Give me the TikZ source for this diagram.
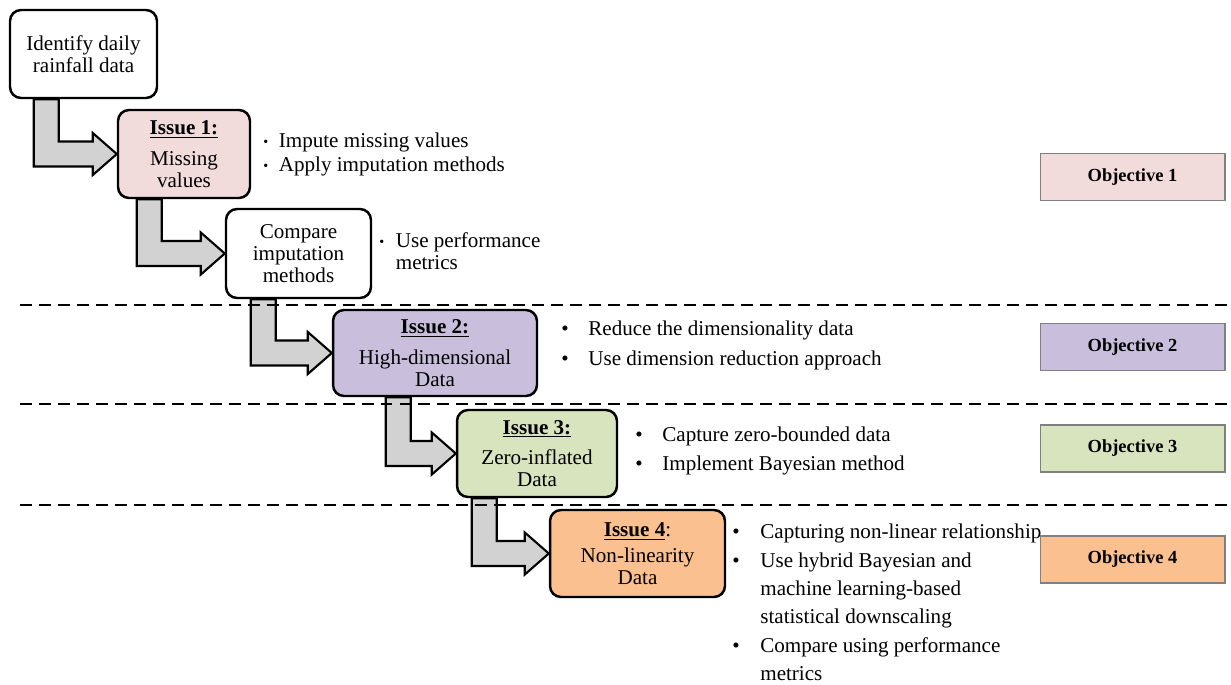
\documentclass[tikz,border=0pt]{standalone}
\usepackage{fontspec}
\setmainfont{Liberation Serif}
\usetikzlibrary{calc}

\definecolor{pinkfill}{HTML}{F2DCDB}
\definecolor{lilacfill}{HTML}{C9BFDC}
\definecolor{greenfill}{HTML}{D7E4BD}
\definecolor{orangefill}{HTML}{FAC090}
\definecolor{shaftgray}{HTML}{D2D2D2}

\tikzset{
  stagebox/.style={draw, line width=1.4pt, rounded corners=0.22cm, align=center,
    inner sep=2pt, font=\fontsize{12}{12.5}\selectfont},
  objbox/.style={draw=black!50, line width=0.6pt, minimum width=3.7cm, minimum height=0.94cm,
    font=\bfseries\fontsize{10.5}{12}\selectfont},
  notes/.style={anchor=west, align=left, inner sep=0pt},
  fatarrow/.style={draw, line width=1.2pt, fill=shaftgray, line join=miter},
  sepline/.style={line width=1.1pt, dash pattern=on 6.8pt off 4pt},
}

% bent block arrow from bottom of #1 into west side of #2, #3 = shaft offset
\newcommand{\fatarrow}[3]{%
  \draw[fatarrow] let \p1=(#1.south west), \p2=(#2.west) in
    (\x1+#3,\y1) -- (\x1+#3+0.5cm,\y1) -- (\x1+#3+0.5cm,\y2+0.25cm)
    -- (\x2-0.48cm,\y2+0.25cm) -- (\x2-0.48cm,\y2+0.42cm) -- (\p2)
    -- (\x2-0.48cm,\y2-0.42cm) -- (\x2-0.48cm,\y2-0.25cm)
    -- (\x1+#3,\y2-0.25cm) -- cycle;}
\newcommand{\bul}[1]{\makebox[#1][l]{\textbullet}}
\newcommand{\sbul}[1]{\makebox[#1][l]{\raisebox{0.1ex}{\footnotesize\textbullet}}}
\newcommand{\issue}[1]{\textbf{\underline{#1}}}

\begin{document}
\begin{tikzpicture}[x=0.02cm, y=-0.02cm]
  \useasboundingbox (0,0) rectangle (1231,684);

  % stages
  \node[stagebox, fill=white, minimum width=2.94cm, minimum height=1.76cm] (idf) at (83.5,54)
    {Identify daily\\rainfall data};
  \node[stagebox, fill=pinkfill, minimum width=2.64cm, minimum height=1.76cm] (iss1) at (184,154)
    {\issue{Issue 1:}\\[5pt]Missing\\values};
  \node[stagebox, fill=white, minimum width=2.9cm, minimum height=1.78cm] (cmp) at (298.5,253.5)
    {Compare\\imputation\\methods};
  \node[stagebox, fill=lilacfill, minimum width=4.08cm, minimum height=1.72cm] (iss2) at (435,353)
    {\issue{Issue 2:}\\[5pt]High-dimensional\\Data};
  \node[stagebox, fill=greenfill, minimum width=3.2cm, minimum height=1.74cm] (iss3) at (537,453.5)
    {\issue{Issue 3:}\\[5pt]Zero-inflated\\Data};
  \node[stagebox, fill=orangefill, minimum width=3.5cm, minimum height=1.74cm] (iss4) at (637.5,553.5)
    {\issue{Issue 4}:\\[2pt]Non-linearity\\Data};

  % block arrows
  \fatarrow{idf}{iss1}{0.5cm}
  \fatarrow{iss1}{cmp}{0.4cm}
  \fatarrow{cmp}{iss2}{0.52cm}
  \fatarrow{iss2}{iss3}{1.08cm}
  \fatarrow{iss3}{iss4}{0.32cm}

  % separators
  \draw[sepline] (20,305) -- (1231,305);
  \draw[sepline] (20,404) -- (1231,404);
  \draw[sepline] (20,505) -- (1231,505);

  % notes
  \node[notes, font=\fontsize{12}{14}\selectfont] (n1) at (263,154.5)
    {\sbul{0.31cm}Impute missing values\\\sbul{0.31cm}Apply imputation methods};
  \node[notes, font=\fontsize{12}{12.5}\selectfont] (n2) at (379,251)
    {\sbul{0.33cm}Use performance\\\hspace*{0.33cm}metrics};
  \node[notes, font=\fontsize{12}{17}\selectfont] (n3) at (561,345)
    {\bul{0.54cm}Reduce the dimensionality data\\\bul{0.54cm}Use dimension reduction approach};
  \node[notes, font=\fontsize{12}{16}\selectfont] (n4) at (635,451)
    {\bul{0.54cm}Capture zero-bounded data\\\bul{0.54cm}Implement Bayesian method};
  \node[notes, font=\fontsize{12}{16.2}\selectfont] (n5) at (732,602.5)
    {\bul{0.56cm}Capturing non-linear relationship\\
     \bul{0.56cm}Use hybrid Bayesian and\\
     \hspace*{0.56cm}machine learning-based\\
     \hspace*{0.56cm}statistical downscaling\\
     \bul{0.56cm}Compare using performance\\
     \hspace*{0.56cm}metrics};

  % objectives
  \node[objbox, fill=pinkfill] (obj1) at (1132.5,177) {Objective 1};
  \node[objbox, fill=lilacfill] (obj2) at (1132.5,347) {Objective 2};
  \node[objbox, fill=greenfill] (obj3) at (1132.5,448.5) {Objective 3};
  \node[objbox, fill=orangefill] (obj4) at (1132.5,559.5) {Objective 4};
\end{tikzpicture}
\end{document}
